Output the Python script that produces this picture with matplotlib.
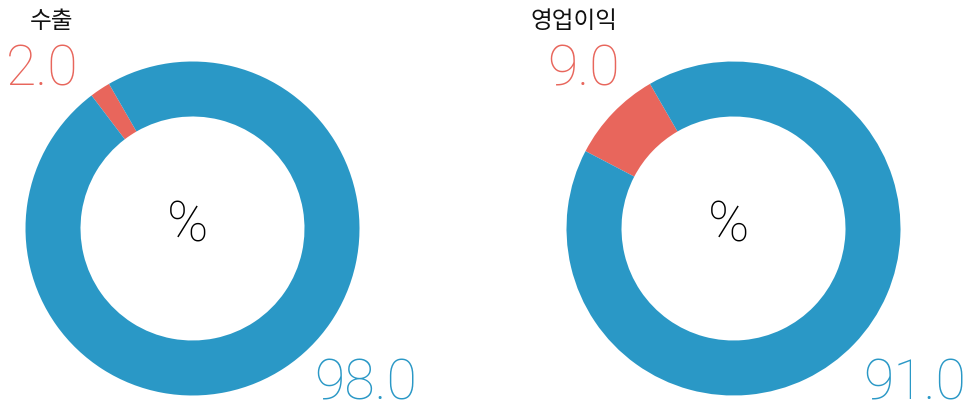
import matplotlib.pyplot as plt

# 데이터
titles = ["수출", "영업이익"]
red_vals = [2.0, 9.0]
blue_vals = [98.0, 91.0]

RED = "#E8665C"
BLUE = "#2A98C6"

W, H = 967, 404
fig = plt.figure(figsize=(W / 100, H / 100), dpi=100)
ax = fig.add_axes([0, 0, 1, 1])

centers = [(192.5, H - 228.5), (733.5, H - 228.5)]
radius = 167
ring = 55

for i in range(2):
    ax.pie([red_vals[i], blue_vals[i]], colors=[RED, BLUE], startangle=120,
           counterclock=True, center=centers[i], radius=radius,
           wedgeprops=dict(width=ring, linewidth=0))
    cx, cy = centers[i]
    ax.text(cx - 5, cy + 3, "%", ha="center", va="center", fontsize=40,
            family="Roboto", color="black", fontweight="light")

# 제목
ax.text(52, H - 21.5, titles[0], ha="center", va="center", fontsize=17,
        family=["Noto Sans CJK KR", "DejaVu Sans"], color="#111111")
ax.text(573.5, H - 21.5, titles[1], ha="center", va="center", fontsize=17,
        family=["Noto Sans CJK KR", "DejaVu Sans"], color="#111111")

# 값
num_font = dict(family="Roboto", fontweight="light", fontsize=40,
                ha="center", va="baseline")
ax.text(42.5, H - 86, f"{red_vals[0]:.1f}", color=RED, **num_font)
ax.text(366, H - 400, f"{blue_vals[0]:.1f}", color=BLUE, **num_font)
ax.text(584, H - 86, f"{red_vals[1]:.1f}", color=RED, **num_font)
ax.text(915, H - 400, f"{blue_vals[1]:.1f}", color=BLUE, **num_font)

ax.set_xlim(0, W)
ax.set_ylim(0, H)
ax.set_aspect("auto")
ax.axis("off")

fig.savefig("out.png", dpi=100)
